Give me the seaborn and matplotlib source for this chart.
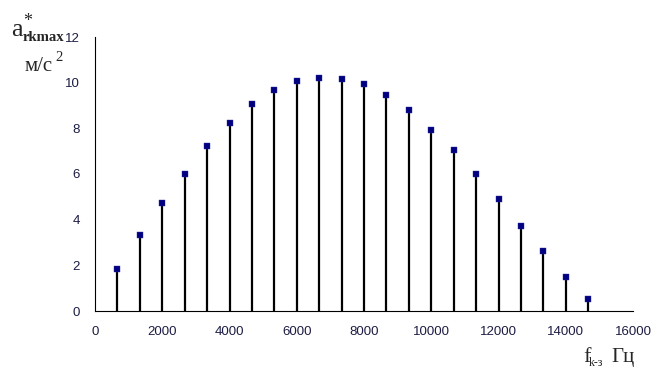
import matplotlib
matplotlib.use("Agg")
import matplotlib.pyplot as plt
import seaborn as sns
import numpy as np
import pandas as pd

# Data
freq_hz = [667, 1333, 2000, 2667, 3333, 4000, 4667, 5333, 6000, 6667, 7333,
           8000, 8667, 9333, 10000, 10667, 11333, 12000, 12667, 13333, 14000, 14667]
a_max = [1.86, 3.31, 4.71, 6.0, 7.21, 8.25, 9.07, 9.66, 10.06, 10.22, 10.15,
         9.92, 9.45, 8.81, 7.94, 7.04, 6.02, 4.89, 3.74, 2.63, 1.47, 0.51]
x_ticks = [0, 2000, 4000, 6000, 8000, 10000, 12000, 14000, 16000]
y_ticks = [0, 2, 4, 6, 8, 10, 12]

df = pd.DataFrame({"f": freq_hz, "a": a_max})

sns.set_theme(style="white")
plt.rcParams["font.family"] = ["Liberation Sans", "DejaVu Sans"]

W, H = 654, 367
fig = plt.figure(figsize=(W / 100, H / 100), dpi=100)
ax = fig.add_axes([95 / W, 1 - 311 / H, (633 - 95) / W, (311 - 37) / H])

ax.vlines(df["f"], 0, df["a"], colors="black", linewidth=1.6, zorder=2)
sns.scatterplot(data=df, x="f", y="a", marker="s", s=21, color="#000080",
                edgecolor="#3030a0", linewidth=0.3, ax=ax, zorder=3, legend=False)

ax.set_xlim(0, 16000)
ax.set_ylim(0, 12)
ax.set_xticks(x_ticks)
ax.set_yticks(y_ticks)
ax.set_xticklabels([str(v) for v in x_ticks])
ax.set_yticklabels([str(v) for v in y_ticks])
ax.set_xlabel("")
ax.set_ylabel("")
for side in ["top", "right"]:
    ax.spines[side].set_visible(False)
for side in ["left", "bottom"]:
    ax.spines[side].set_color("black")
    ax.spines[side].set_linewidth(0.8)
ax.tick_params(axis="both", which="major", direction="out", length=3.5, width=0.8,
               color="black", labelsize=9.5, labelcolor="#1c1c44")
ax.tick_params(axis="x", pad=7.5)
ax.tick_params(axis="y", pad=7.5)
ax.set_facecolor("white")
fig.patch.set_facecolor("white")


def px(x, y):
    return x / W, 1 - y / H

serif = ["Liberation Serif", "DejaVu Serif"]
# y-axis label: a*_rkmax, м/с^2
fig.text(*px(11, 35.5), "a", family=serif, fontsize=19, va="baseline", ha="left")
fig.text(*px(23, 25.5), "*", family=serif, fontsize=13, va="baseline", ha="left")
fig.text(*px(23, 41), "rkmax", family=serif, fontsize=10.6, fontweight="bold",
         va="baseline", ha="left")
fig.text(*px(25, 71), "м/с", family=serif, fontsize=15, va="baseline", ha="left")
fig.text(*px(55, 61), "2", family=serif, fontsize=10.5, va="baseline", ha="left")

# x-axis label: f_k-з, Гц
fig.text(*px(583, 362), "f", family=serif, fontsize=16, va="baseline", ha="left")
fig.text(*px(589, 365.5), "k-з", family=serif, fontsize=8.5, va="baseline", ha="left")
fig.text(*px(611, 362), "Гц", family=serif, fontsize=15, va="baseline", ha="left")

fig.savefig("out.png", dpi=100, facecolor="white")
